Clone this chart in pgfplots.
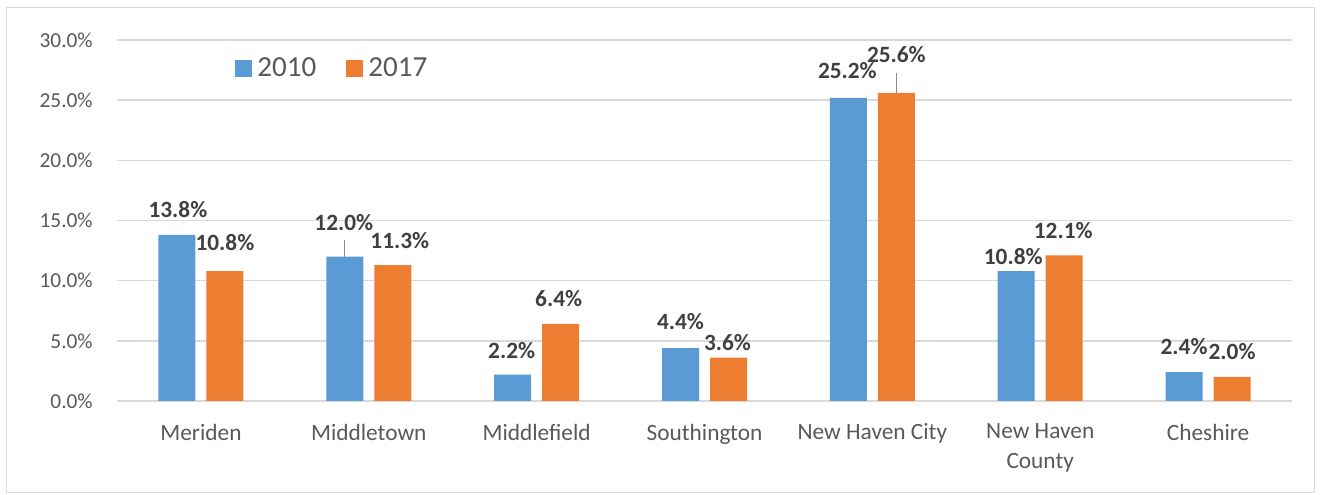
\documentclass[border=0pt]{standalone}
\usepackage{fontspec}
\setmainfont{Carlito}
\usepackage{pgfplots}
\usepackage{pgfplotstable}
\pgfplotsset{compat=1.18}
\definecolor{cblue}{HTML}{5B9BD5}
\definecolor{corange}{HTML}{ED7D31}
\definecolor{gridc}{HTML}{D9D9D9}
\definecolor{ticktext}{HTML}{595959}
\definecolor{labtext}{HTML}{404040}
\definecolor{leader}{HTML}{8C8C8C}

\pgfplotstableread{
x y dx dy
0 13.8 1 25
1 12.0 -1 34
2 2.2 -1 24
3 4.4 0 26
4 25.2 -1 27
5 10.8 -3 14
6 2.4 0 26
}\dataA
\pgfplotstableread{
x y dx dy
0 10.8 0 28
1 11.3 7 24
2 6.4 -2 25
3 3.6 -1 15
4 25.6 0 38
5 12.1 -1 25
6 2.0 0 25
}\dataB

\begin{document}
\begin{tikzpicture}
\useasboundingbox (-87.75pt,-70.5pt) rectangle (904.5pt,300.75pt);
\fill[white] (-87.75pt,-70.5pt) rectangle (904.5pt,300.75pt);
\draw[gridc, line width=0.75pt] (-82.5pt,-69pt) rectangle (897.75pt,294.75pt);
\begin{axis}[
  at={(0,0)}, anchor=south west,
  width=881.25pt, height=270.75pt, scale only axis,
  xmin=-0.5, xmax=6.5, ymin=0, ymax=30,
  ybar=8.25pt, bar width=27.75pt,
  xtick={0,...,6},
  xticklabels={Meriden, Middletown, Middlefield, Southington, New Haven City, {New Haven\\County}, Cheshire},
  ytick={0,5,...,30},
  ymajorgrids, grid style={gridc, line width=1.1pt},
  axis line style={draw=none},
  major tick length=0pt,
  tick style={draw=none},
  /pgf/number format/assume math mode=true,
  yticklabel={\pgfmathprintnumber[fixed,fixed zerofill,precision=1]{\tick}\%},
  yticklabel style={font=\fontsize{16}{19}\selectfont, text=ticktext, inner sep=0pt, xshift=-18pt},
  xticklabel style={font=\fontsize{17.5}{22}\selectfont, text=ticktext, inner sep=0pt, yshift=-17pt, align=center},
  point meta=y,
  nodes near coords={\pgfmathprintnumber[fixed,fixed zerofill,precision=1]{\pgfplotspointmeta}\%},
  visualization depends on={\thisrow{dx}\as\dx},
  visualization depends on={\thisrow{dy}\as\dy},
  every node near coord/.append style={font=\bfseries\fontsize{17.5}{20}\selectfont, text=labtext, anchor=center, inner sep=0pt, xshift=\dx*0.75pt, yshift=\dy*0.75pt},
  legend style={at={(0.1003,0.922)}, anchor=west, draw=none, fill=none, inner sep=0pt,
    font=\fontsize{21.8}{25}\selectfont, text=ticktext, legend columns=2,
    /tikz/every odd column/.append style={column sep=2pt},
    /tikz/every even column/.append style={column sep=20.25pt}},
  legend image code/.code={\fill[#1] (0pt,-6.4pt) rectangle (12.75pt,6.4pt);},
]
\addplot[fill=cblue, draw=none] table[x=x,y=y] {\dataA};
\addplot[fill=corange, draw=none] table[x=x,y=y] {\dataB};
\legend{2010,2017}
\draw[leader, line width=0.75pt] ([xshift=-18pt]axis cs:1,12.0) -- ([xshift=-18pt,yshift=12.4pt]axis cs:1,12.0);
\draw[leader, line width=0.75pt] ([xshift=18pt]axis cs:4,25.6) -- ([xshift=18pt,yshift=15pt]axis cs:4,25.6);
\end{axis}
\end{tikzpicture}
\end{document}
